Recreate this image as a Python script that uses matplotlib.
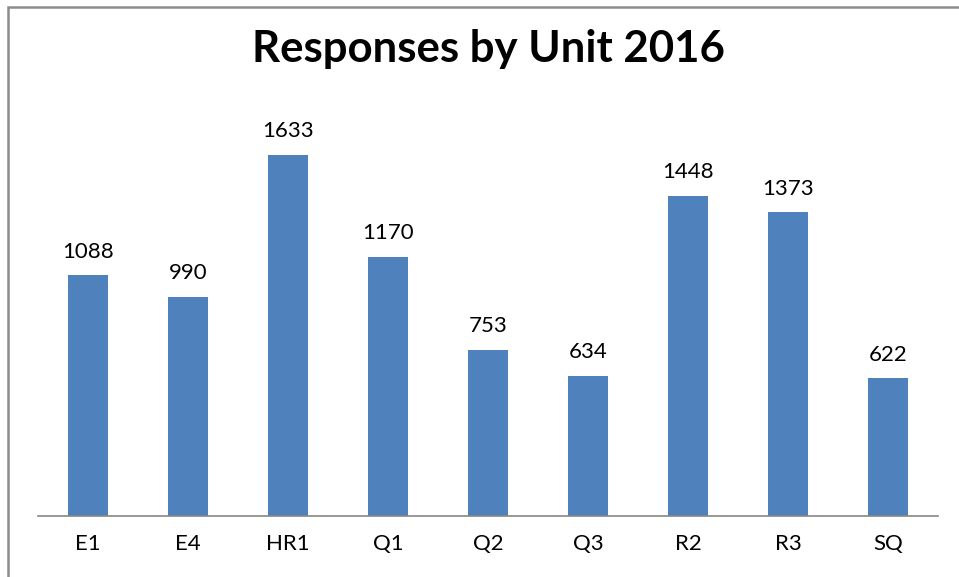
import matplotlib.pyplot as plt
from matplotlib.patches import Rectangle

units = ['E1', 'E4', 'HR1', 'Q1', 'Q2', 'Q3', 'R2', 'R3', 'SQ']
responses = [1088, 990, 1633, 1170, 753, 634, 1448, 1373, 622]

W, H = 959, 577
fig = plt.figure(figsize=(W / 100, H / 100), dpi=100)
plt.rcParams['font.family'] = ['Lato', 'DejaVu Sans']

# outer chart frame (cropped on the right and bottom)
fig.patches.append(Rectangle((8 / W, -0.1), 1.2, 1 - 7 / H + 0.1, transform=fig.transFigure,
                             fill=False, edgecolor='#8c8c8c', linewidth=1.8))

ax = fig.add_axes([38 / W, 61 / H, 900 / W, 398 / H])
x = range(len(units))
ax.bar(x, responses, width=0.4, color='#4F81BD')
ax.set_xlim(-0.5, len(units) - 0.5)
ax.set_ylim(0, 1800)

for xi, v in zip(x, responses):
    ax.annotate(str(v), (xi, v), xytext=(0, 10), textcoords='offset points',
                ha='center', va='bottom', fontsize=16)

ax.set_xticks(list(x))
ax.set_xticklabels(units, fontsize=16)
ax.tick_params(axis='x', length=0, pad=13)
ax.set_yticks([])
for s in ['top', 'right', 'left']:
    ax.spines[s].set_visible(False)
ax.spines['bottom'].set_color('#868686')
ax.spines['bottom'].set_linewidth(1.2)

fig.text(488 / W, 1 - 62 / H, 'Responses by Unit 2016', ha='center', va='baseline',
         fontsize=31.5, fontweight='bold')

fig.savefig('out.png', dpi=100)
